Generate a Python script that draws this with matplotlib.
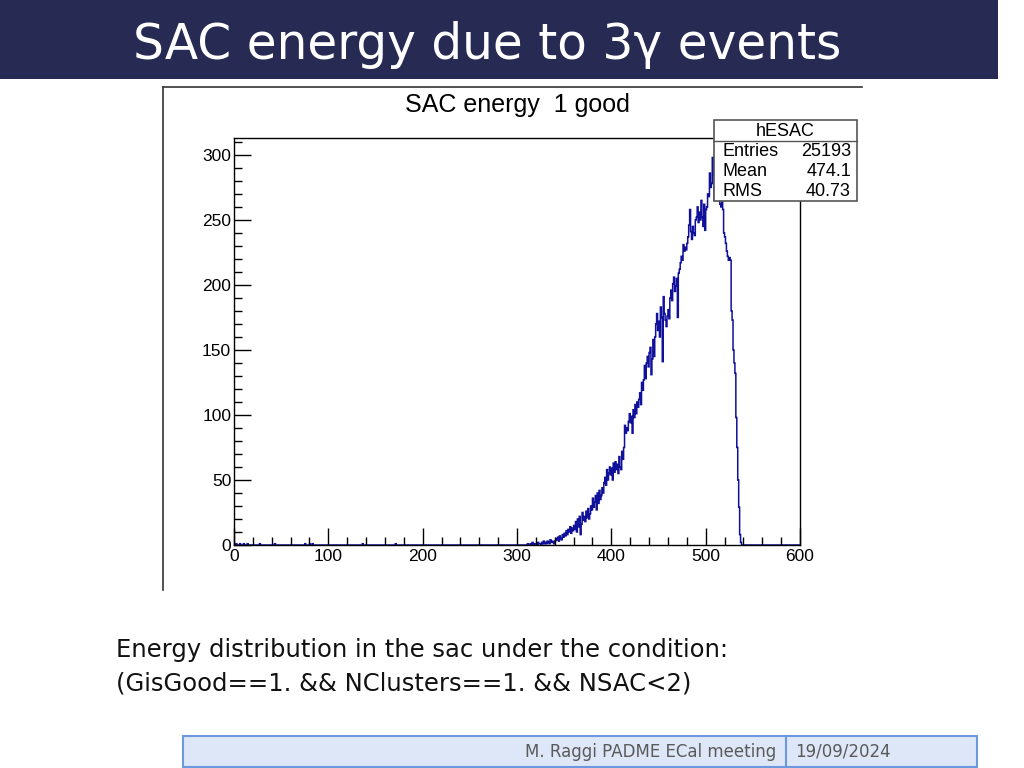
import numpy as np
import matplotlib
matplotlib.use('Agg')
import matplotlib.pyplot as plt
from matplotlib.patches import Rectangle
from matplotlib.lines import Line2D
from matplotlib.ticker import MultipleLocator

W, H = 1024, 768

# histogram: 600 bins of width 1 between 0 and 600
x_min, x_max, n_bins = 0, 600, 600

# isolated single entries in the low energy region
sparse_bins = [2, 6, 10, 14, 27, 43, 75, 80, 83, 136, 171]
sparse_counts = [1, 1, 1, 1, 1, 1, 1, 1, 1, 1, 1]

# bin contents from 310 to 539
main_start = 310
main_counts = [
    0, 1, 0, 0, 1, 0, 2, 1, 0, 1,
    1, 0, 2, 1, 1, 0, 2, 1, 3, 1,
    2, 1, 3, 2, 1, 4, 2, 3, 2, 1,
    3, 5, 4, 6, 3, 7, 5, 4, 8, 6,
    9, 7, 11, 8, 12, 10, 14, 9, 13, 11,
    15, 12, 18, 10, 20, 14, 22, 8, 16, 25,
    19, 22, 18, 26, 21, 28, 20, 24, 30, 27,
    36, 29, 33, 38, 27, 40, 32, 42, 35, 38,
    44, 40, 48, 52, 46, 58, 50, 55, 60, 54,
    59, 50, 63, 56, 64, 58, 62, 55, 68, 60,
    58, 72, 66, 75, 92, 86, 90, 88, 95, 101,
    94, 99, 86, 104, 98, 108, 101, 110, 106, 112,
    117, 108, 125, 119, 127, 138, 128, 140, 145, 137,
    148, 152, 131, 143, 158, 145, 160, 170, 178, 165,
    172, 160, 183, 175, 141, 191, 178, 173, 168, 176,
    181, 174, 190, 196, 188, 201, 206, 195, 199, 205,
    175, 209, 212, 217, 222, 219, 231, 226, 229, 227,
    232, 237, 246, 258, 241, 235, 245, 240, 238, 250,
    252, 260, 248, 256, 250, 265, 252, 245, 262, 242,
    258, 260, 270, 268, 286, 275, 278, 298, 285, 265,
    278, 270, 268, 265, 266, 262, 260, 265, 258, 240,
    237, 232, 226, 222, 219, 221, 219, 180, 173, 150,
    140, 132, 98, 75, 50, 29, 8, 2, 0, 0,
]

hist_title = 'SAC energy  1 good'
stats_name = 'hESAC'
stats_labels = ['Entries', 'Mean', 'RMS']
stats_values = ['25193', '474.1', '40.73']

slide_title = 'SAC energy due to 3γ events'
body_lines = ['Energy distribution in the sac under the condition:',
              '(GisGood==1. && NClusters==1. && NSAC<2)']
footer_left = 'M. Raggi PADME ECal meeting'
footer_right = '19/09/2024'

edges = np.linspace(x_min, x_max, n_bins + 1)
counts = np.zeros(n_bins)
for b, c in zip(sparse_bins, sparse_counts):
    counts[b] = c
counts[main_start:main_start + len(main_counts)] = main_counts


def fx(px):
    return px / W


def fy(py):
    return 1 - py / H


fig = plt.figure(figsize=(W / 100, H / 100), dpi=100)
fig.patch.set_facecolor('white')

slide_font = ['DejaVu Sans']
root_font = ['Liberation Sans', 'DejaVu Sans']

# title banner
fig.patches.append(Rectangle((0, fy(79)), fx(998), 79 / H, transform=fig.transFigure,
                             facecolor='#272a53', edgecolor='none', zorder=1))
fig.text(fx(133), fy(45), slide_title, color='white', fontsize=35, family=slide_font,
         ha='left', va='center')

# ROOT canvas border (top and left edges visible)
fig.lines.append(Line2D([fx(163), fx(163)], [fy(590), fy(87)], transform=fig.transFigure,
                        color='#333333', lw=1.2))
fig.lines.append(Line2D([fx(163), fx(862)], [fy(87), fy(87)], transform=fig.transFigure,
                        color='#333333', lw=1.2))

# histogram axes
ax = fig.add_axes([fx(234), fy(545), (800 - 234) / W, (545 - 138) / H])
ax.stairs(counts, edges, color='#10109a', lw=1.1)
ax.set_xlim(x_min, x_max)
ax.set_ylim(0, 313)
ax.xaxis.set_major_locator(MultipleLocator(100))
ax.xaxis.set_minor_locator(MultipleLocator(20))
ax.yaxis.set_major_locator(MultipleLocator(50))
ax.yaxis.set_minor_locator(MultipleLocator(10))
ax.tick_params(which='both', direction='in', top=False, right=False, width=1)
ax.tick_params(which='major', length=12)
ax.tick_params(which='minor', length=6)
ax.tick_params(axis='x', pad=3)
ax.tick_params(axis='y', pad=2)
for lab in ax.get_xticklabels() + ax.get_yticklabels():
    lab.set_family(root_font)
    lab.set_fontsize(12.5)
for s in ax.spines.values():
    s.set_linewidth(1)

fig.text(fx(517), fy(105), hist_title, fontsize=18, family=root_font,
         ha='center', va='center')

# stats box
fig.patches.append(Rectangle((fx(714), fy(201)), (857 - 714) / W, (201 - 120) / H,
                             transform=fig.transFigure, facecolor='white',
                             edgecolor='#555555', lw=1.2, zorder=2))
fig.lines.append(Line2D([fx(714), fx(857)], [fy(141), fy(141)], transform=fig.transFigure,
                        color='#555555', lw=1.0, zorder=3))
fig.text(fx(785), fy(131), stats_name, fontsize=13, family=root_font,
         ha='center', va='center', zorder=4)
for i, (lab, val) in enumerate(zip(stats_labels, stats_values)):
    yy = 151 + i * 20.5
    fig.text(fx(722), fy(yy), lab, fontsize=13, family=root_font,
             ha='left', va='center', zorder=4)
    fig.text(fx(851), fy(yy), val, fontsize=13, family=root_font,
             ha='right', va='center', zorder=4)

# description text
for i, line in enumerate(body_lines):
    fig.text(fx(116), fy(650 + i * 34), line, fontsize=17.5, family=slide_font,
             ha='left', va='center', color='#111111')

# footer
fig.patches.append(Rectangle((fx(183), fy(767)), (977 - 183) / W, (767 - 736) / H,
                             transform=fig.transFigure, facecolor='#dde7f7',
                             edgecolor='#6b98df', lw=1.5, zorder=1))
fig.lines.append(Line2D([fx(786), fx(786)], [fy(767), fy(736)], transform=fig.transFigure,
                        color='#6b98df', lw=1.5))
fig.text(fx(776), fy(752), footer_left, fontsize=12, family=slide_font,
         ha='right', va='center', color='#5a5a5a')
fig.text(fx(795), fy(752), footer_right, fontsize=12, family=slide_font,
         ha='left', va='center', color='#5a5a5a')

fig.savefig('out.png', dpi=100)
